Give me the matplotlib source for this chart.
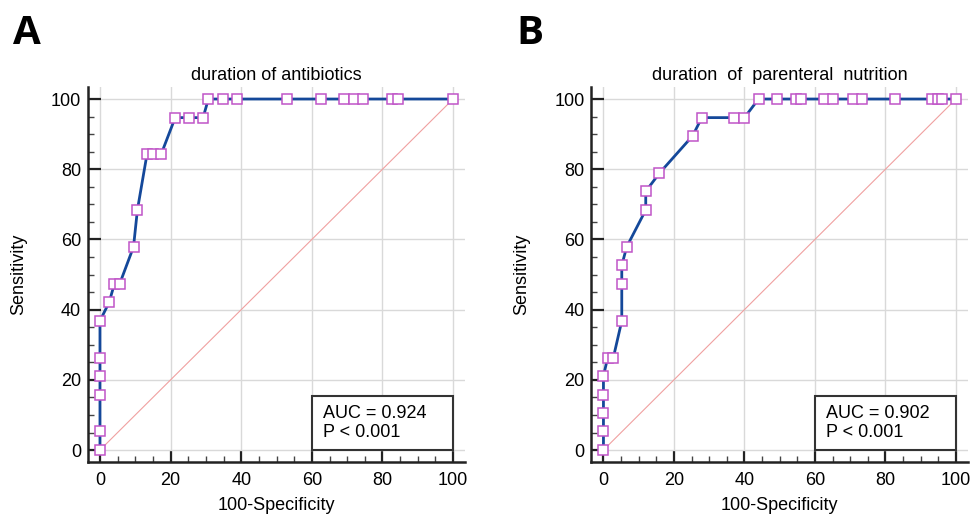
import matplotlib
matplotlib.use('Agg')
import matplotlib.pyplot as plt
from matplotlib.patches import Rectangle
from matplotlib.ticker import MultipleLocator

plt.rcParams['font.family'] = ['Liberation Sans', 'DejaVu Sans']

# panel A: duration of antibiotics
fpr_a = [0, 0, 0, 0, 0, 0, 2.6, 4.1, 5.6, 9.5, 10.6, 13.3, 15.0, 17.3, 21.3, 25.2, 29.2,
         30.7, 34.7, 38.8, 53.0, 62.6, 69.2, 71.8, 74.6, 82.6, 84.3, 100]
sens_a = [0, 5.3, 15.8, 21.1, 26.3, 36.8, 42.1, 47.4, 47.4, 57.9, 68.4, 84.2, 84.2, 84.2,
          94.7, 94.7, 94.7, 100, 100, 100, 100, 100, 100, 100, 100, 100, 100, 100]

# panel B: duration of parenteral nutrition
fpr_b = [0, 0, 0, 0, 0, 1.2, 2.8, 5.2, 5.2, 5.2, 6.6, 12.0, 12.0, 15.9, 25.3, 27.9, 37.1, 40.0,
         44.0, 49.3, 54.6, 56.1, 62.7, 65.2, 70.7, 73.4, 82.6, 93.3, 95.0, 96.1, 100]
sens_b = [0, 5.3, 10.5, 15.8, 21.1, 26.3, 26.3, 36.8, 47.4, 52.6, 57.9, 68.4, 73.7, 78.9, 89.5,
          94.7, 94.7, 94.7, 100, 100, 100, 100, 100, 100, 100, 100, 100, 100, 100, 100, 100]

titles = ['duration of antibiotics', 'duration  of  parenteral  nutrition']
auc_text = ['AUC = 0.924\nP < 0.001', 'AUC = 0.902\nP < 0.001']
letters = ['A', 'B']

fig = plt.figure(figsize=(9.72, 5.15), dpi=100)
ax_a = fig.add_axes([0.0905, 0.1029, 0.388, 0.728])
ax_b = fig.add_axes([0.6085, 0.1029, 0.3873, 0.728])

for ax, fpr, sens, title, txt in zip([ax_a, ax_b], [fpr_a, fpr_b], [sens_a, sens_b], titles, auc_text):
    ax.set_xlim(-3.4, 103.4)
    ax.set_ylim(-3.4, 103.4)
    ax.grid(True, color='#d9d9d9', lw=1)
    ax.set_axisbelow(True)
    # reference line
    ax.plot([0, 100], [0, 100], color='#f0a0a0', lw=0.8, zorder=2)
    ax.plot(fpr, sens, color='#14489a', lw=2, zorder=3,
            marker='s', ms=7, mfc='white', mec='#c055c8', mew=1.1)
    for s in ['top', 'right']:
        ax.spines[s].set_visible(False)
    for s in ['left', 'bottom']:
        ax.spines[s].set_linewidth(1.8)
        ax.spines[s].set_color('#222222')
    ax.xaxis.set_major_locator(MultipleLocator(20))
    ax.yaxis.set_major_locator(MultipleLocator(20))
    ax.xaxis.set_minor_locator(MultipleLocator(5))
    ax.yaxis.set_minor_locator(MultipleLocator(5))
    ax.tick_params(which='major', direction='in', length=9, width=1.6, color='#222222', labelsize=13)
    ax.tick_params(which='minor', direction='in', length=4.5, width=1, color='#444444')
    ax.tick_params(axis='x', pad=7)
    ax.tick_params(axis='y', pad=5)
    ax.set_title(title, fontsize=13, pad=5)
    ax.set_xlabel('100-Specificity', fontsize=13, labelpad=6)
    ax.set_ylabel('Sensitivity', fontsize=13)
    ax.yaxis.set_label_coords(-0.162, 0.5)
    ax.add_patch(Rectangle((60, 0), 40, 15.5, fill=True, fc='white', ec='#333333', lw=1.5, zorder=4))
    ax.text(63.2, 7.8, txt, fontsize=13, va='center', ha='left', linespacing=1.15, zorder=5)

fig.text(0.013, 0.9146, letters[0], fontsize=29, fontweight='bold', family=['Open Sans', 'DejaVu Sans'])
fig.text(0.531, 0.9146, letters[1], fontsize=29, fontweight='bold', family=['Open Sans', 'DejaVu Sans'])

fig.savefig('out.png', dpi=100)
